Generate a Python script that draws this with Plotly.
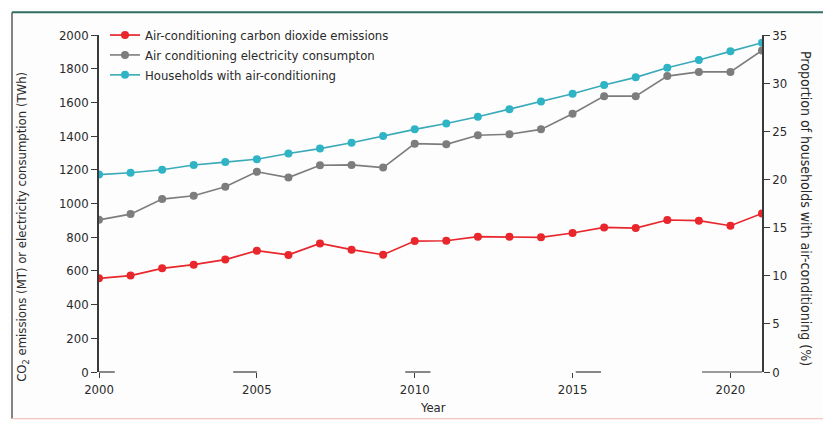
import plotly.graph_objects as go

years = list(range(2000, 2022))
co2_emissions = [556, 572, 615, 637, 667, 720, 695, 763, 726, 696, 777, 779, 803, 803, 799, 825,
                 858, 854, 902, 898, 868, 941]
electricity = [903, 937, 1026, 1046, 1099, 1188, 1154, 1227, 1229, 1213, 1355, 1351, 1405, 1411,
               1440, 1533, 1637, 1637, 1756, 1781, 1781, 1908]
households = [20.5, 20.7, 21.0, 21.5, 21.8, 22.1, 22.7, 23.2, 23.8, 24.5, 25.2, 25.8, 26.5, 27.3,
              28.1, 28.9, 29.8, 30.6, 31.6, 32.4, 33.3, 34.2]
x_ticks = [2000, 2005, 2010, 2015, 2020]
left_ticks = list(range(0, 2001, 200))
right_ticks = list(range(0, 36, 5))

FONT = "Liberation Sans Narrow, Arial Narrow, DejaVu Sans Condensed, sans-serif"
RED = "#e8262c"
GREY = "#7d7d7d"
CYAN = "#2fb4c6"
AXIS = "#3a3a3a"
TXT = "#2a2a2a"

fig = go.Figure()
fig.add_trace(go.Scatter(
    x=years, y=co2_emissions, mode="lines+markers", name="Air-conditioning carbon dioxide emissions",
    line=dict(color=RED, width=1.7), marker=dict(color=RED, size=8), yaxis="y"))
fig.add_trace(go.Scatter(
    x=years, y=electricity, mode="lines+markers", name="Air conditioning electricity consumpton",
    line=dict(color=GREY, width=1.6), marker=dict(color=GREY, size=8), yaxis="y"))
fig.add_trace(go.Scatter(
    x=years, y=households, mode="lines+markers", name="Households with air-conditioning",
    line=dict(color="#3aaab8", width=1.6), marker=dict(color=CYAN, size=8), yaxis="y2"))

# page has an 8px body margin: work in page pixels and convert
OFF = 8
W, H = 831 - OFF, 423 - OFF
L = 99 - OFF
T = 33 - OFF
R = W - (762 - OFF)
B = H - (372 - OFF)
pw, ph = W - L - R, H - T - B


def px(xpage):
    return (xpage - OFF - L) / pw


def py(ypage):
    return (H - B - (ypage - OFF)) / ph


shapes = [
    dict(type="line", xref="paper", yref="paper", x0=px(12), x1=px(826), y0=py(10), y1=py(10),
         line=dict(color="#2f6f62", width=2)),
    dict(type="line", xref="paper", yref="paper", x0=px(12), x1=px(12), y0=py(10), y1=py(419),
         line=dict(color="#5a5a5a", width=1.5)),
    dict(type="line", xref="paper", yref="paper", x0=px(826), x1=px(826), y0=py(10), y1=py(419),
         line=dict(color="#5aa9a6", width=1.2)),
    dict(type="line", xref="paper", yref="paper", x0=px(12), x1=px(826), y0=py(419), y1=py(419),
         line=dict(color="#f0c8c0", width=1.2)),
]
# broken x-axis segments around the year ticks
for x0, x1 in [(2000, 2000.5), (2004.25, 2005), (2009.7, 2010.5), (2015.1, 2015.9), (2019.1, 2021)]:
    shapes.append(dict(type="line", xref="x", yref="paper", x0=x0, x1=x1, y0=0, y1=0,
                       line=dict(color=AXIS, width=1.2)))

fig.update_layout(
    width=W, height=H,
    margin=dict(l=L, r=R, t=T, b=B),
    paper_bgcolor="#fdfdfd", plot_bgcolor="#fdfdfd",
    font=dict(family=FONT, size=13, color=TXT),
    showlegend=True,
    legend=dict(x=px(105), y=py(18), xanchor="left", yanchor="top", bgcolor="rgba(0,0,0,0)",
                font=dict(size=13, color=TXT), tracegroupgap=0, itemwidth=30),
    xaxis=dict(range=[2000, 2021], tickvals=x_ticks, showline=False, showgrid=False, zeroline=False,
               ticks="outside", ticklen=5, tickcolor=AXIS, tickfont=dict(size=13, color=TXT)),
    yaxis=dict(range=[0, 2000], tickvals=left_ticks, showline=True, linecolor=AXIS, linewidth=1.5,
               showgrid=False, zeroline=False, ticks="outside", ticklen=6, tickcolor=AXIS,
               tickfont=dict(size=13, color=TXT)),
    yaxis2=dict(range=[0, 35], tickvals=right_ticks, overlaying="y", side="right", anchor="x",
                showline=True, linecolor=AXIS, linewidth=1.5, showgrid=False, zeroline=False,
                ticks="outside", ticklen=6, tickcolor=AXIS, tickfont=dict(size=13, color=TXT)),
    shapes=shapes,
    annotations=[
        dict(text="Year", xref="paper", yref="paper", x=px(433), y=py(408), showarrow=False,
             xanchor="center", yanchor="middle", font=dict(size=13, color=TXT)),
        dict(text="CO<sub>2</sub> emissions (MT) or electricity consumption (TWh)", xref="paper",
             yref="paper", x=px(23), y=py(226), textangle=-90, showarrow=False,
             xanchor="center", yanchor="middle", font=dict(size=13, color=TXT)),
        dict(text="Proportion of households with air-conditioning (%)", xref="paper", yref="paper",
             x=px(806), y=py(207), textangle=90, showarrow=False,
             xanchor="center", yanchor="middle", font=dict(size=14, color=TXT)),
    ],
)

fig.write_html("out.html")
